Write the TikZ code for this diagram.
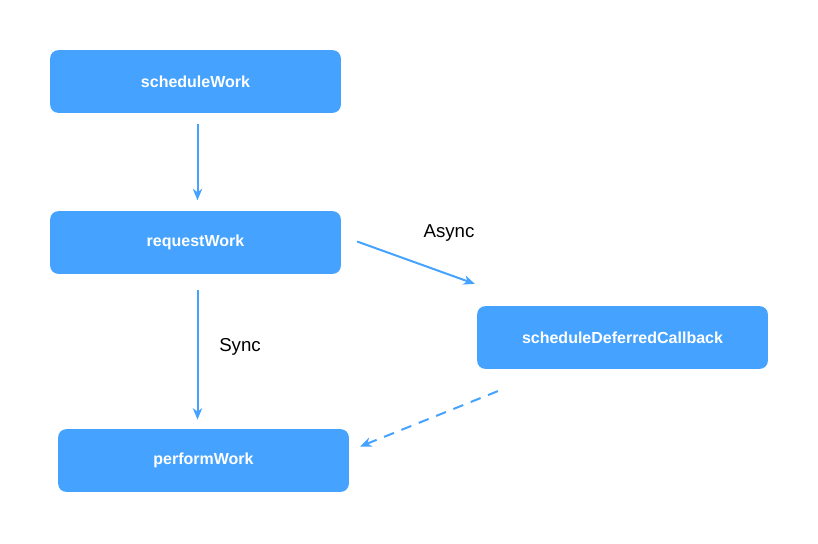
\documentclass[tikz,border=0pt]{standalone}
\usepackage{fontspec}
\setmainfont{Liberation Sans}
\usetikzlibrary{arrows.meta, calc}
\definecolor{reactblue}{HTML}{45A3FF}

\begin{document}
\begin{tikzpicture}[
  x=0.75pt, y=-0.75pt,
  fn/.style={rectangle, fill=reactblue, rounded corners=6pt, minimum width=218pt, minimum height=47pt,
    text=white, font=\fontsize{12pt}{14pt}\selectfont\bfseries},
  flow/.style={-{Stealth[length=8.5pt,width=7pt,inset=2.5pt]}, draw=reactblue, line width=1.5pt},
  lbl/.style={font=\fontsize{14pt}{16pt}\selectfont, text=black}
]
\useasboundingbox (0,0) rectangle (818,543);

\node[fn] (schedule) at (195.5,81.5) {scheduleWork};
\node[fn] (request) at (195.5,242.5) {requestWork};
\node[fn] (deferred) at (622.5,337.5) {scheduleDeferredCallback};
\node[fn] (perform) at (203.5,460.5) {performWork};

\draw[flow, shorten <=8pt, shorten >=8pt] ([xshift=1.5pt]schedule.south) -- ([xshift=1.5pt]request.north);
\draw[flow, shorten <=12pt, shorten >=7pt] ([xshift=1.5pt]request.south) -- ([xshift=1.5pt]request.south |- perform.north);
\draw[flow] ($(request.east)+(16,-1)$) -- ($(deferred.north west)+(-2,-22)$);
\draw[flow, dashed, dash pattern=on 8pt off 6pt] ($(deferred.south west)+(21,22)$) -- ($(perform.east)+(11,-14)$);

\node[lbl] (async) at (449,233) {Async};
\node[lbl] (sync) at (240,347) {Sync};
\end{tikzpicture}
\end{document}
